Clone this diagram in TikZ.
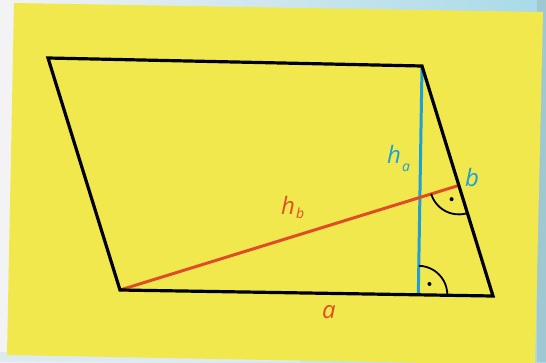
\documentclass[tikz,border=0pt]{standalone}
\usepackage{fontspec}
\setmainfont{Open Sans}
\usetikzlibrary{calc,angles}
\definecolor{paper}{RGB}{241,232,78}
\definecolor{hred}{RGB}{222,78,38}
\definecolor{hblue}{RGB}{30,160,215}
\definecolor{bgblue}{RGB}{168,218,232}
\definecolor{bgwhite}{RGB}{243,242,245}
\newcommand{\subl}[1]{\raisebox{-8pt}{\fontsize{14}{16}\selectfont #1}}
\begin{document}
\begin{tikzpicture}[x=1pt,y=-1pt,
  side/.style={line width=3.2pt,black,line join=miter},
  hline/.style={line width=3pt},
  rmark/.style={draw,line width=1.8pt,angle radius=29pt},
  rdot/.style={fill=black},
  lbl/.style={font=\fontsize{24}{26}\selectfont\itshape,inner sep=0pt,anchor=base west}]
\useasboundingbox (0,0) rectangle (546,362);
% background (scanned page)
\shade[left color=bgwhite,right color=bgblue] (0,0) rectangle (546,362);
\fill[bgwhite] (0,0) rectangle (14,362);
\fill[bgwhite!70!bgblue] (0,352) -- (300,358) -- (300,362) -- (0,362) -- cycle;
\fill[bgblue!80!gray] (537,0) rectangle (546,362);
% yellow card
\fill[paper] (14,3) -- (543,12) -- (535,365) -- (7,355) -- cycle;
% parallelogram
\coordinate (A) at (120,290);
\coordinate (B) at (493,296);
\coordinate (C) at (422,66);
\coordinate (D) at (48,58);
\coordinate (F) at ($(A)!(C)!(B)$);
\coordinate (G) at ($(B)!(A)!(C)$);
% heights
\draw[hline,hblue] (C) -- (F);
\draw[hline,hred] (A) -- (G);
% right-angle marks
\pic[rmark] {angle=B--F--C};
\pic[rmark] {angle=A--G--B};
\coordinate (F1) at ($(F)!11pt!(C)$);
\coordinate (F2) at ($(F)!11pt!(B)$);
\coordinate (G1) at ($(G)!11pt!(A)$);
\coordinate (G2) at ($(G)!11pt!(B)$);
\fill[rdot] ($(F1)+(F2)-(F)$) circle (2pt);
\fill[rdot] ($(G1)+(G2)-(G)$) circle (2pt);
% sides
\draw[side] (A) -- (B) -- (C) -- (D) -- cycle;
% labels
\node[lbl,text=hblue] (la) at (387,163) {h\kern1pt\subl{a}};
\node[lbl,text=hblue] (lb) at (465,186) {b};
\node[lbl,text=hred] (lhb) at (281,214) {h\kern1pt\raisebox{-4pt}{\fontsize{14}{16}\selectfont b}};
\node[lbl,text=hred] (laa) at (322,318) {a};
\end{tikzpicture}
\end{document}
